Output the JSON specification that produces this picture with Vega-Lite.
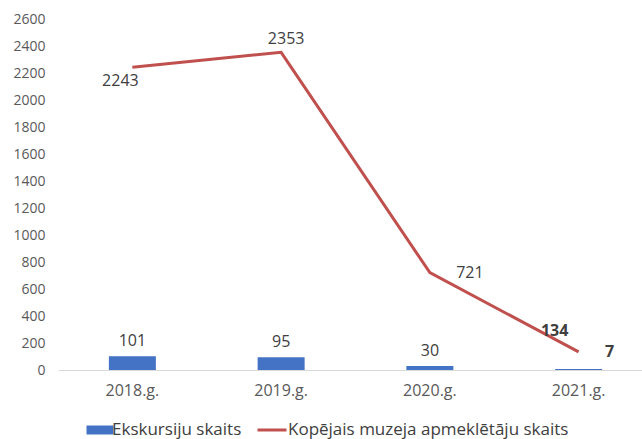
{
  "$schema": "https://vega.github.io/schema/vega-lite/v6.json",
  "width": 584,
  "height": 351,
  "autosize": "none",
  "padding": {"left": 58, "top": 19, "right": 0, "bottom": 69},
  "background": "white",
  "config": {
    "view": {"stroke": null},
    "font": "Open Sans",
    "text": {"font": "Open Sans"},
    "axisY": {"labelOverlap": false, "grid": false, "domain": false, "ticks": false, "labelColor": "#595959", "labelFontSize": 14, "labelPadding": 13, "labelFont": "Open Sans", "title": null, "format": "d"}
  },
  "data": {
    "values": [
      {"gads": "2018.g.", "ekskursijas": 101, "apmekletaji": 2243},
      {"gads": "2019.g.", "ekskursijas": 95, "apmekletaji": 2353},
      {"gads": "2020.g.", "ekskursijas": 30, "apmekletaji": 721},
      {"gads": "2021.g.", "ekskursijas": 7, "apmekletaji": 134}
    ]
  },
  "encoding": {
    "x": {
      "field": "gads", "type": "nominal", "sort": null,
      "scale": {"paddingInner": 0, "paddingOuter": 0, "range": [0, 595]},
      "axis": {"title": null, "labelAngle": 0, "ticks": false, "domainColor": "#D9D9D9", "labelColor": "#595959", "labelFontSize": 16, "labelPadding": 12, "labelFont": "Open Sans"}
    }
  },
  "layer": [
    {
      "mark": {"type": "bar", "width": 47},
      "encoding": {
        "y": {"field": "ekskursijas", "type": "quantitative",
          "scale": {"domain": [0, 2600]},
          "axis": {"values": [0,200,400,600,800,1000,1200,1400,1600,1800,2000,2200,2400,2600]}},
        "fill": {"datum": "Ekskursiju skaits", "type": "nominal",
          "scale": {"range": ["#4472C4"]},
          "legend": {"title": null, "orient": "none", "legendX": 32, "legendY": 401, "symbolType": "M-1.5,-0.5H1.5V0.5H-1.5Z", "symbolSize": 324, "labelFontSize": 17, "labelColor": "#404040", "labelFont": "Open Sans", "labelOffset": 2, "labelLimit": 400}}
      }
    },
    {
      "mark": {"type": "line", "strokeWidth": 3},
      "encoding": {
        "y": {"field": "apmekletaji", "type": "quantitative", "scale": {"domain": [0, 2600]}, "axis": {"values": [0,200,400,600,800,1000,1200,1400,1600,1800,2000,2200,2400,2600]}},
        "stroke": {"datum": "Kopējais muzeja apmeklētāju skaits", "type": "nominal",
          "scale": {"range": ["#C0504D"]},
          "legend": {"title": null, "orient": "none", "legendX": 198, "legendY": 395, "symbolType": "stroke", "symbolStrokeWidth": 3, "symbolSize": 841, "labelFontSize": 17, "labelColor": "#404040", "labelFont": "Open Sans", "labelOffset": 0, "labelLimit": 500}}
      }
    },
    {
      "transform": [{"filter": "datum.gads != '2021.g.'"}],
      "mark": {"type": "text", "baseline": "bottom", "dy": -7, "fontSize": 16, "color": "#404040"},
      "encoding": {
        "y": {"field": "ekskursijas", "type": "quantitative", "axis": {"values": [0,200,400,600,800,1000,1200,1400,1600,1800,2000,2200,2400,2600]}},
        "text": {"field": "ekskursijas"}
      }
    },
    {
      "transform": [{"filter": "datum.gads == '2021.g.'"}],
      "mark": {"type": "text", "dx": 31, "dy": -17, "fontSize": 16, "fontWeight": "bold", "color": "#404040"},
      "encoding": {
        "y": {"field": "ekskursijas", "type": "quantitative", "axis": {"values": [0,200,400,600,800,1000,1200,1400,1600,1800,2000,2200,2400,2600]}},
        "text": {"field": "ekskursijas"}
      }
    },
    {
      "transform": [{"filter": "datum.gads == '2018.g.'"}],
      "mark": {"type": "text", "dx": -12, "dy": 14, "fontSize": 16, "color": "#404040"},
      "encoding": {"y": {"field": "apmekletaji", "type": "quantitative", "axis": {"values": [0,200,400,600,800,1000,1200,1400,1600,1800,2000,2200,2400,2600]}}, "text": {"field": "apmekletaji"}}
    },
    {
      "transform": [{"filter": "datum.gads == '2019.g.'"}],
      "mark": {"type": "text", "dx": 5, "dy": -13, "fontSize": 16, "color": "#404040"},
      "encoding": {"y": {"field": "apmekletaji", "type": "quantitative", "axis": {"values": [0,200,400,600,800,1000,1200,1400,1600,1800,2000,2200,2400,2600]}}, "text": {"field": "apmekletaji"}}
    },
    {
      "transform": [{"filter": "datum.gads == '2020.g.'"}],
      "mark": {"type": "text", "dx": 40, "dy": 0, "fontSize": 16, "color": "#404040"},
      "encoding": {"y": {"field": "apmekletaji", "type": "quantitative", "axis": {"values": [0,200,400,600,800,1000,1200,1400,1600,1800,2000,2200,2400,2600]}}, "text": {"field": "apmekletaji"}}
    },
    {
      "transform": [{"filter": "datum.gads == '2021.g.'"}],
      "mark": {"type": "text", "dx": -24, "dy": -21, "fontSize": 16, "fontWeight": "bold", "color": "#404040"},
      "encoding": {"y": {"field": "apmekletaji", "type": "quantitative", "axis": {"values": [0,200,400,600,800,1000,1200,1400,1600,1800,2000,2200,2400,2600]}}, "text": {"field": "apmekletaji"}}
    }
  ],
  "resolve": {"legend": {"fill": "independent", "stroke": "independent"}}
}
